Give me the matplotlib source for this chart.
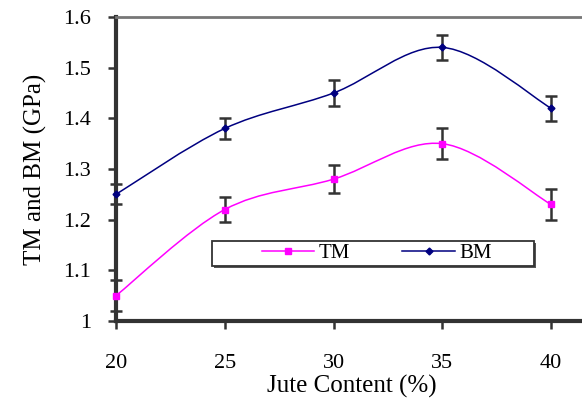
import numpy as np
import matplotlib.pyplot as plt
from matplotlib.path import Path
from matplotlib.patches import PathPatch, Rectangle
from matplotlib.lines import Line2D

# data
jute = [20, 25, 30, 35, 40]
tm = [1.05, 1.22, 1.28, 1.35, 1.23]
bm = [1.25, 1.38, 1.45, 1.54, 1.42]
tm_err = [0.03, 0.025, 0.028, 0.03, 0.03]
bm_err = [0.02, 0.021, 0.025, 0.025, 0.025]
yticks = [1.0, 1.1, 1.2, 1.3, 1.4, 1.5, 1.6]
ytick_labels = ['1', '1.1', '1.2', '1.3', '1.4', '1.5', '1.6']
xticks = [20, 25, 30, 35, 40]

plt.rcParams['font.family'] = ['Liberation Serif', 'DejaVu Serif']


# Excel-like smoothed line as cubic bezier through the points
def smooth_path(x, y):
    pts = np.column_stack([x, y]).astype(float)
    n = len(pts)
    verts = [pts[0]]
    codes = [Path.MOVETO]
    for i in range(n - 1):
        p0 = pts[max(i - 1, 0)]
        p1 = pts[i]
        p2 = pts[i + 1]
        p3 = pts[min(i + 2, n - 1)]
        verts += [p1 + (p2 - p0) / 6, p2 - (p3 - p1) / 6, p2]
        codes += [Path.CURVE4] * 3
    return Path(verts, codes)


W, H = 582, 405
fig = plt.figure(figsize=(W / 100, H / 100), dpi=100)
ax = fig.add_axes([116 / W, (H - 321) / H, 484 / W, 304 / H])
ax.set_xlim(20, 42.25)
ax.set_ylim(1.0, 1.6)

tm_color = '#ff00ff'
bm_color = '#000080'
err_color = '#333333'

ax.add_patch(PathPatch(smooth_path(jute, tm), fill=False, edgecolor=tm_color, lw=1.1, zorder=3))
ax.add_patch(PathPatch(smooth_path(jute, bm), fill=False, edgecolor=bm_color, lw=1.1, zorder=3))

ax.errorbar(jute, tm, yerr=tm_err, fmt='none', ecolor=err_color, elinewidth=1.8,
            capsize=4, capthick=1.8, zorder=4, clip_on=False)
ax.errorbar(jute, bm, yerr=bm_err, fmt='none', ecolor=err_color, elinewidth=1.8,
            capsize=4, capthick=1.8, zorder=4, clip_on=False)
ax.plot(jute, tm, 's', color=tm_color, ms=5, zorder=5, clip_on=False)
ax.plot(jute, bm, 'D', color=bm_color, ms=3.5, zorder=5, clip_on=False)

ax.set_xticks(xticks)
ax.set_yticks(yticks)
ax.set_yticklabels(ytick_labels)
ax.tick_params(axis='both', labelsize=16, direction='out', width=1.8, color='#333333')
ax.tick_params(axis='x', length=6, pad=18)
ax.tick_params(axis='y', length=6, pad=12)

ax.spines['right'].set_visible(False)
ax.spines['top'].set_color('#777777')
ax.spines['top'].set_linewidth(2)
ax.spines['left'].set_color('#333333')
ax.spines['left'].set_linewidth(3)
ax.spines['bottom'].set_color('#333333')
ax.spines['bottom'].set_linewidth(3)

ax.set_xlabel('Jute Content (%)', fontsize=18)
ax.set_ylabel('TM and BM (GPa)', fontsize=18)
ax.xaxis.set_label_coords((352 - 116) / 484, -(375 - 321) / 304)
ax.yaxis.set_label_coords((47 - 116) / 484, 0.5)

# legend box with shadow
bx, by, bw, bh = 212, 241, 322, 25
fig.patches.append(Rectangle(((bx + 2) / W, (H - by - bh - 2) / H), bw / W, bh / H,
                             transform=fig.transFigure, facecolor='#555555',
                             edgecolor='none', zorder=5))
fig.patches.append(Rectangle((bx / W, (H - by - bh) / H), bw / W, bh / H,
                             transform=fig.transFigure, facecolor='white',
                             edgecolor='#333333', lw=1.3, zorder=6))

handles = [Line2D([], [], color=tm_color, marker='s', ms=5, lw=1.1),
           Line2D([], [], color=bm_color, marker='D', ms=3.5, lw=1.1)]
leg = fig.legend(handles, ['TM', 'BM'], loc='center', ncol=2, frameon=False,
                 bbox_to_anchor=(377 / W, 1 - 253.5 / H), fontsize=15,
                 handlelength=2.5, handletextpad=0.25, columnspacing=2.5)
leg.set_zorder(7)

fig.savefig('out.png', dpi=100)
